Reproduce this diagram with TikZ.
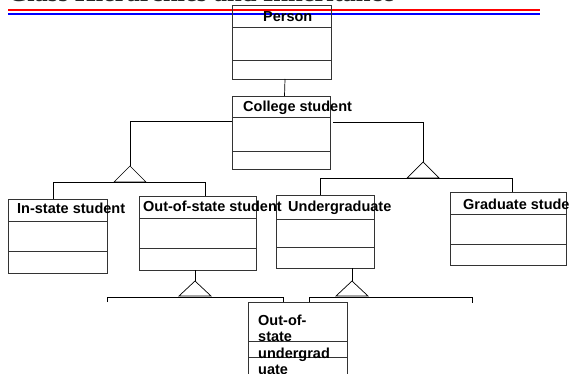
\documentclass[tikz,border=0pt]{standalone}
\usepackage{fontspec}
\setmainfont{Liberation Sans}
\newfontfamily\titlefont{Liberation Serif}
\usetikzlibrary{calc}

\tikzset{
  box/.style={draw=black!80, line width=0.8pt, inner sep=0, outer sep=0, anchor=north west},
  sep/.style={draw=black!80, line width=0.8pt},
  lbl/.style={font=\fontsize{14.5}{16.5}\selectfont\bfseries, anchor=base west, inner sep=0},
  link/.style={black, line width=0.7pt},
}

\begin{document}
\begin{tikzpicture}[x=1pt,y=-1pt]
\useasboundingbox (0,0) rectangle (570,374);
\node[font=\titlefont\fontsize{26.5}{30}\selectfont\bfseries, text=black!85, anchor=base west, inner sep=0] (title) at (8,2) {Class Hierarchies and Inheritance};
\draw[red, line width=2pt] (8,10) -- (540,10);
\draw[blue, line width=2pt] (8,14.5) -- (540,14.5);
\foreach \n/\x/\y/\w/\h/\a/\b in {person/232/5/99/74/22/55, college/232/96/98/73/21/55,
  instate/8/199/99/74/22/52, outstate/139/196/117/74/22/52, undergrad/276/195/98/73/24/52,
  grad/450/192/116/73/22/52, outunder/248/302/99/100/39/55} {
 \node[box, minimum width=\w, minimum height=\h] (\n) at (\x,\y) {};
 \draw[sep] ([yshift=-\a]\n.north west) -- ([yshift=-\a]\n.north east);
 \draw[sep] ([yshift=-\b]\n.north west) -- ([yshift=-\b]\n.north east);
}
\node[lbl] (person-t) at (263,21.5) {Person};
\node[lbl] (college-t) at (243,112) {College student};
\node[lbl] (instate-t) at (17,214) {In-state student};
\node[lbl] (outstate-t) at (143,211.5) {Out-of-state student};
\node[lbl] (undergrad-t) at (288,211.5) {Undergraduate};
\node[lbl] (grad-t) at (463,210) {Graduate student};
\node[lbl, anchor=north west, align=left] (outunder-t) at (258,314.5) {Out-of-\\state\\undergrad\\uate};
\draw[link] ([xshift=3.5]person.south) -- ([xshift=3.5]college.north);
\coordinate (tA) at (130,166);
\coordinate (tB) at (423,162);
\coordinate (tC) at (195,281);
\coordinate (tD) at (352,281);
\foreach \t in {tA,tB}
 \draw[link] (\t) -- ++(-16,16) -- ++(32,0) -- cycle;
\foreach \t in {tC,tD}
 \draw[link] (\t) -- ++(-16,15) -- ++(32,0) -- cycle;
\draw[link] ([yshift=11]college.west) -| (tA);
\draw[link] ([xshift=3,yshift=10.5]college.east) -| (tB);
\draw[link] (outstate.south -| tC) -- (tC);
\draw[link] (undergrad.south -| tD) -- (tD);
\coordinate (lb1) at (53,182);
\coordinate (lb2) at (205,182);
\coordinate (rb1) at (320,178);
\coordinate (rb2) at (512,178);
\draw[link] (instate.north -| lb1) -- (lb1) -- (lb2) -- (outstate.north -| lb2);
\draw[link] (undergrad.north -| rb1) -- (rb1) -- (rb2) -- (grad.north -| rb2);
\coordinate (cb1) at (107,297);
\coordinate (cb2) at (283,297);
\coordinate (db1) at (309,297);
\coordinate (db2) at (472,297);
\draw[link] ([yshift=-5]cb1) -- (cb1) -- (cb2) -- (outunder.north -| cb2);
\draw[link] (outunder.north -| db1) -- (db1) -- (db2) -- ([yshift=-6]db2);
\end{tikzpicture}
\end{document}
